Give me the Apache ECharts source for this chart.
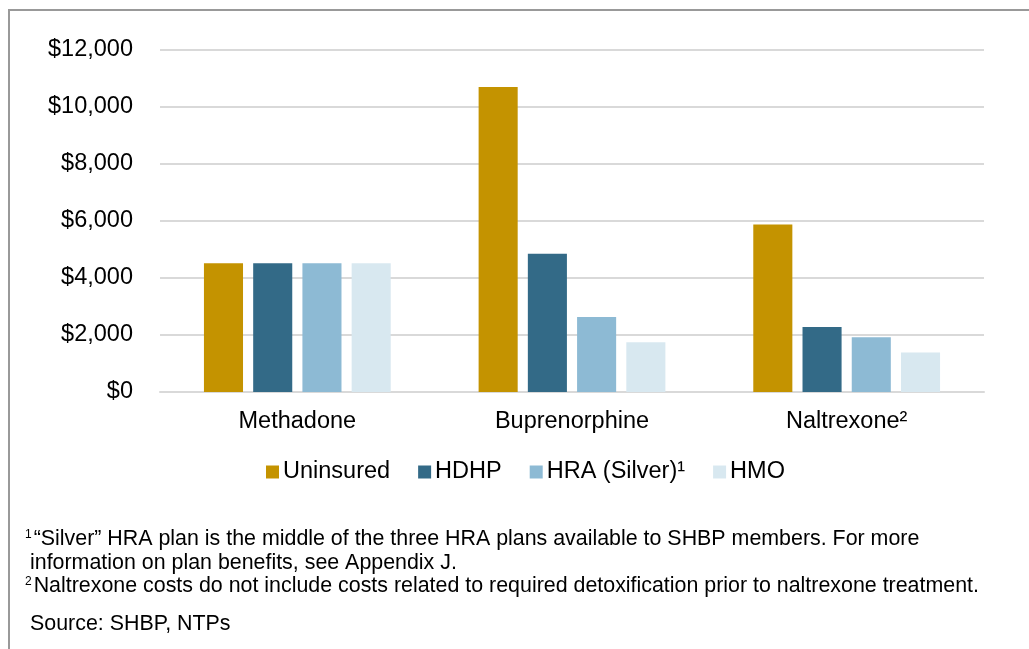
<!DOCTYPE html>
<html>
<head>
<meta charset="utf-8">
<script src="https://cdn.jsdelivr.net/npm/echarts@6/dist/echarts.min.js"></script>
<style>
  html, body { margin: 0; padding: 0; background: #fff; }
  #chart { width: 1029px; height: 649px; }
</style>
</head>
<body>
<div id="chart"></div>
<script>
var categories = ["Methadone", "Buprenorphine", "Naltrexone²"];
var seriesNames = ["Uninsured", "HDHP", "HRA (Silver)¹", "HMO"];
var uninsured = [4520, 10700, 5880];
var hdhp = [4520, 4850, 2280];
var hraSilver = [4520, 2630, 1920];
var hmo = [4520, 1750, 1390];
var colors = ["#C49300", "#336A87", "#8DBAD4", "#D8E8F0"];
var footnote1 = "“Silver” HRA plan is the middle of the three HRA plans available to SHBP members. For more";
var footnote1b = "information on plan benefits, see Appendix J.";
var footnote2 = "Naltrexone costs do not include costs related to required detoxification prior to naltrexone treatment.";
var source = "Source: SHBP, NTPs";

var font = "Liberation Sans, Arial, sans-serif";
var myChart = echarts.init(document.getElementById("chart"));

var values = [uninsured, hdhp, hraSilver, hmo];
var series = [];
seriesNames.forEach(function (name, i) {
  series.push({
    name: name,
    type: "bar",
    data: values[i],
    barGap: "26%",
    barCategoryGap: "32%",
    itemStyle: { color: colors[i] }
  });
});

var noteFont = "21.4px " + font;
var supRich = { s: { fontSize: 12, verticalAlign: "top", padding: [0, 2, 9, 0] } };
var option = {
  animation: false,
  color: colors,
  grid: { left: 160, right: 45, top: 50, bottom: 257, containLabel: false },
  legend: {
    top: 455,
    left: 261,
    itemWidth: 13,
    itemHeight: 13,
    itemGap: 28,
    icon: "rect",
    textStyle: { fontFamily: font, fontSize: 23.5, color: "#000", padding: [0, 0, 0, -1] },
    data: seriesNames
  },
  xAxis: {
    type: "category",
    data: categories,
    axisTick: { show: false },
    axisLine: { lineStyle: { color: "#D9D9D9", width: 2 } },
    axisLabel: { fontFamily: font, fontSize: 23.5, color: "#000", margin: 18 }
  },
  yAxis: {
    type: "value",
    min: 0,
    max: 12000,
    interval: 2000,
    axisLine: { show: false },
    axisTick: { show: false },
    splitLine: { lineStyle: { color: "#D9D9D9", width: 2 } },
    axisLabel: {
      fontFamily: font, fontSize: 23.5, color: "#000", margin: 27,
      formatter: function (v) { return "$" + v.toLocaleString("en-US"); }
    }
  },
  graphic: [
    {
      type: "polyline",
      shape: { points: [[9, 649], [9, 10], [1029, 10]] },
      style: { stroke: "#999", lineWidth: 2, fill: null }
    },
    {
      type: "text", left: 25, top: 529,
      style: { text: "{s|1}" + footnote1, font: noteFont, fill: "#000", rich: supRich }
    },
    { type: "text", left: 30, top: 553, style: { text: footnote1b, font: noteFont, fill: "#000" } },
    {
      type: "text", left: 25, top: 576,
      style: { text: "{s|2}" + footnote2, font: noteFont, fill: "#000", rich: supRich }
    },
    { type: "text", left: 30, top: 614, style: { text: source, font: noteFont, fill: "#000" } }
  ],
  series: series
};
myChart.setOption(option, true);
</script>
</body>
</html>
